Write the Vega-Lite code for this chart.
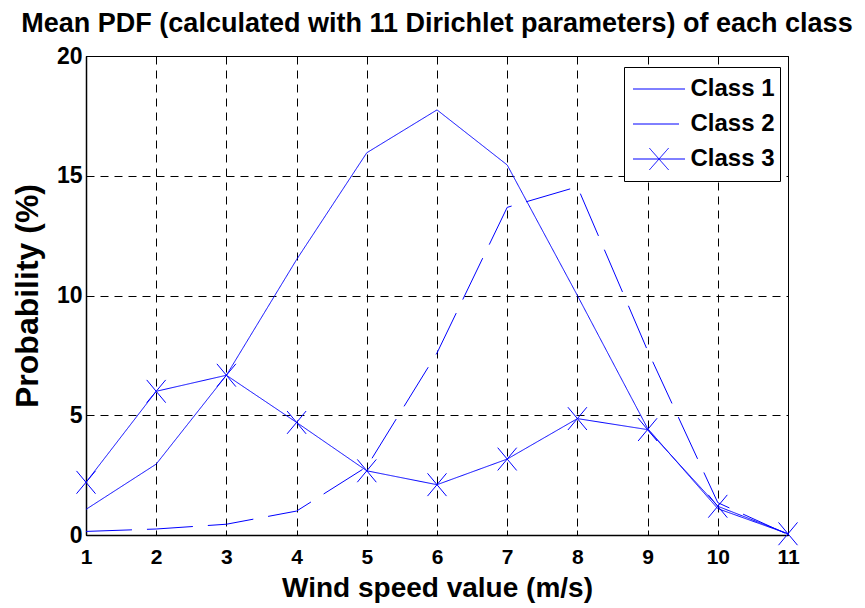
{
  "$schema": "https://vega.github.io/schema/vega-lite/v6.json",
  "width": 702,
  "height": 479,
  "autosize": {"type": "none"},
  "padding": {"left": 86, "top": 56, "right": 77, "bottom": 73},
  "background": "white",
  "title": {
    "text": "Mean PDF (calculated with 11 Dirichlet parameters) of each class",
    "font": "Liberation Sans",
    "fontSize": 27,
    "fontWeight": "bold",
    "color": "black",
    "anchor": "middle",
    "offset": 7
  },
  "data": {
    "values": [
      {"speed": 1, "prob": 1.07, "cls": "Class 1"},
      {"speed": 2, "prob": 2.96, "cls": "Class 1"},
      {"speed": 3, "prob": 6.67, "cls": "Class 1"},
      {"speed": 4, "prob": 11.5, "cls": "Class 1"},
      {"speed": 5, "prob": 15.96, "cls": "Class 1"},
      {"speed": 6, "prob": 17.75, "cls": "Class 1"},
      {"speed": 7, "prob": 15.45, "cls": "Class 1"},
      {"speed": 8, "prob": 10.0, "cls": "Class 1"},
      {"speed": 9, "prob": 4.45, "cls": "Class 1"},
      {"speed": 10, "prob": 1.1, "cls": "Class 1"},
      {"speed": 11, "prob": 0.05, "cls": "Class 1"},
      {"speed": 1, "prob": 0.15, "cls": "Class 2"},
      {"speed": 2, "prob": 0.25, "cls": "Class 2"},
      {"speed": 3, "prob": 0.45, "cls": "Class 2"},
      {"speed": 4, "prob": 1.0, "cls": "Class 2"},
      {"speed": 5, "prob": 2.85, "cls": "Class 2"},
      {"speed": 6, "prob": 7.6, "cls": "Class 2"},
      {"speed": 7, "prob": 13.68, "cls": "Class 2"},
      {"speed": 8, "prob": 14.54, "cls": "Class 2"},
      {"speed": 9, "prob": 7.7, "cls": "Class 2"},
      {"speed": 10, "prob": 1.35, "cls": "Class 2"},
      {"speed": 11, "prob": 0.02, "cls": "Class 2"},
      {"speed": 1, "prob": 2.2, "cls": "Class 3"},
      {"speed": 2, "prob": 6.0, "cls": "Class 3"},
      {"speed": 3, "prob": 6.67, "cls": "Class 3"},
      {"speed": 4, "prob": 4.7, "cls": "Class 3"},
      {"speed": 5, "prob": 2.68, "cls": "Class 3"},
      {"speed": 6, "prob": 2.1, "cls": "Class 3"},
      {"speed": 7, "prob": 3.17, "cls": "Class 3"},
      {"speed": 8, "prob": 4.86, "cls": "Class 3"},
      {"speed": 9, "prob": 4.4, "cls": "Class 3"},
      {"speed": 10, "prob": 1.2, "cls": "Class 3"},
      {"speed": 11, "prob": 0.05, "cls": "Class 3"}
    ]
  },
  "encoding": {
    "x": {
      "field": "speed",
      "type": "quantitative",
      "scale": {"domain": [1, 11], "nice": false, "zero": false},
      "axis": {
        "title": "Wind speed value (m/s)",
        "values": [1, 2, 3, 4, 5, 6, 7, 8, 9, 10, 11],
        "format": "d",
        "labelFontSize": 21,
        "labelPadding": 16,
        "labelFlush": false,
        "labelOverlap": false,
        "titleFontSize": 28,
        "titlePadding": 7
      }
    },
    "y": {
      "field": "prob",
      "type": "quantitative",
      "scale": {"domain": [0, 20], "nice": false},
      "axis": {
        "title": "Probability (%)",
        "values": [0, 5, 10, 15, 20],
        "labelFontSize": 23,
        "labelPadding": 9,
        "labelFlush": false,
        "labelOverlap": false,
        "titleFontSize": 32,
        "titlePadding": 12
      }
    }
  },
  "layer": [
    {
      "mark": {"type": "line", "strokeWidth": 1},
      "encoding": {
        "color": {
          "field": "cls",
          "type": "nominal",
          "scale": {"domain": ["Class 1", "Class 2", "Class 3"], "range": ["#0000ff", "#0000ff", "#0000ff"]},
          "legend": {
            "title": null,
            "orient": "none",
            "legendX": 538,
            "legendY": 11,
            "direction": "vertical",
            "strokeColor": "black",
            "fillColor": "white",
            "padding": 4.5,
            "clipHeight": 35,
            "rowPadding": 0,
            "symbolSize": 2704,
            "symbolOffset": 4,
            "symbolStrokeWidth": 1,
            "labelOffset": 5,
            "labelFont": "Liberation Sans",
            "labelFontWeight": "bold",
            "labelFontSize": 24,
            "labelColor": "black",
            "encode": {
              "symbols": {
                "update": {
                  "shape": {"signal": "datum.value === 'Class 3' ? 'M-1,0H1M-0.37,-0.42L0.37,0.42M-0.37,0.42L0.37,-0.42' : 'M-1,0H1'"},
                  "fill": {"value": "transparent"},
                  "stroke": {"value": "#0000ff"},
                  "strokeWidth": {"value": 1},
                  "opacity": {"value": 1}
                }
              }
            }
          }
        },
        "strokeDash": {
          "field": "cls",
          "type": "nominal",
          "scale": {"domain": ["Class 1", "Class 2", "Class 3"], "range": [[1, 0], [46, 15], [1, 0]]},
          "legend": {
            "title": null,
            "orient": "none",
            "legendX": 538,
            "legendY": 11
          }
        }
      }
    },
    {
      "transform": [{"filter": "datum.cls === 'Class 3'"}],
      "mark": {
        "type": "point",
        "shape": "M-1,-1.2L1,1.2M-1,1.2L1,-1.2",
        "size": 361,
        "filled": false,
        "stroke": "#0000ff",
        "strokeWidth": 1,
        "opacity": 1
      }
    }
  ],
  "config": {
    "view": {"stroke": "black", "strokeWidth": 1},
    "axis": {
      "grid": true,
      "gridColor": "black",
      "gridDash": [8, 6],
      "gridOpacity": 1,
      "gridWidth": 1,
      "ticks": true,
      "tickSize": -5,
      "tickColor": "black",
      "tickWidth": 1,
      "domain": true,
      "domainColor": "black",
      "domainWidth": 1.5,
      "labelFont": "Liberation Sans",
      "labelFontWeight": "bold",
      "labelColor": "black",
      "titleFont": "Liberation Sans",
      "titleFontWeight": "bold",
      "titleColor": "black"
    }
  }
}
